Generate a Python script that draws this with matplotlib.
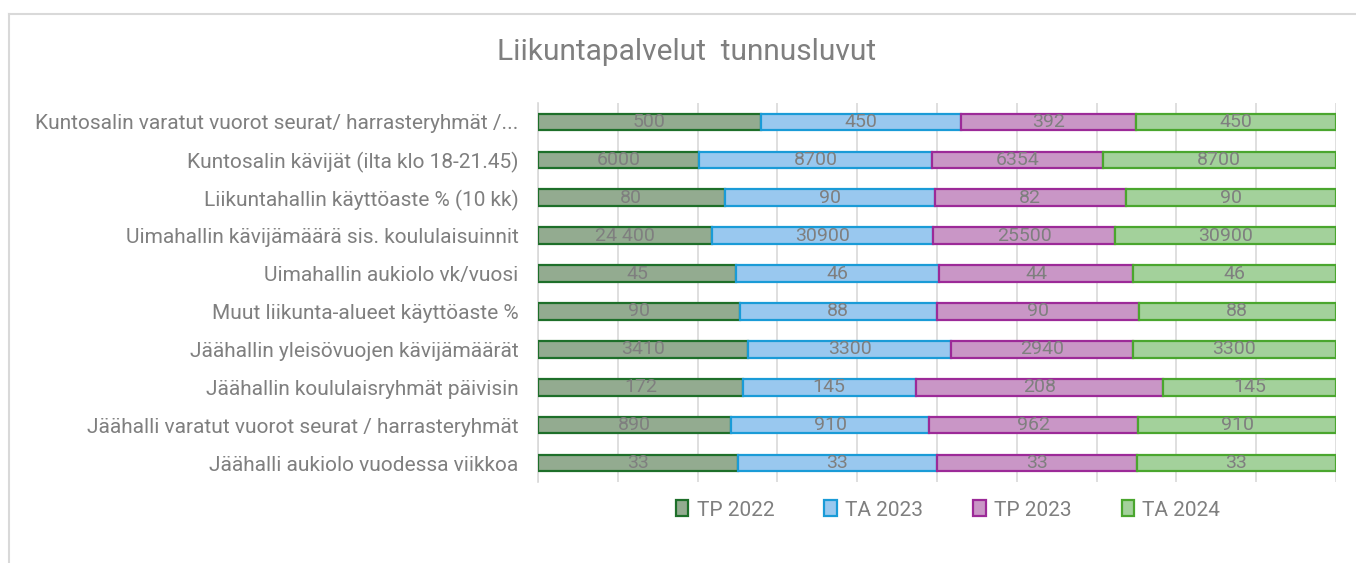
import numpy as np
import matplotlib.pyplot as plt

plt.rcParams['font.family'] = ['Roboto', 'DejaVu Sans']

# Categories (top to bottom as shown)
categories = [
    'Kuntosalin varatut vuorot seurat/ harrasteryhmät /...',
    'Kuntosalin kävijät (ilta klo 18-21.45)',
    'Liikuntahallin käyttöaste % (10 kk)',
    'Uimahallin kävijämäärä sis. koululaisuinnit',
    'Uimahallin aukiolo vk/vuosi',
    'Muut liikunta-alueet käyttöaste %',
    'Jäähallin yleisövuojen kävijämäärät',
    'Jäähallin koululaisryhmät päivisin',
    'Jäähalli varatut vuorot seurat / harrasteryhmät',
    'Jäähalli aukiolo vuodessa viikkoa',
]
series_names = ['TP 2022', 'TA 2023', 'TP 2023', 'TA 2024']
tp2022 = [500, 6000, 80, 24400, 45, 90, 3410, 172, 890, 33]
ta2023 = [450, 8700, 90, 30900, 46, 88, 3300, 145, 910, 33]
tp2023 = [392, 6354, 82, 25500, 44, 90, 2940, 208, 962, 33]
ta2024 = [450, 8700, 90, 30900, 46, 88, 3300, 145, 910, 33]
# (category index, series index) -> label text where the source formats differently
label_fmt = {(3, 0): '24 400'}

fills = ['#93ab90', '#99c8ef', '#c996c6', '#a3d19b']
edges = ['#1e6f2a', '#1a9bd7', '#9c2a98', '#4aa62e']
text_gray = '#7f7f7f'

data = np.array([tp2022, ta2023, tp2023, ta2024], dtype=float)
share = data / data.sum(axis=0)

fig = plt.figure(figsize=(13.56, 5.63), dpi=100)
ax = fig.add_axes([538 / 1356, 1 - 482 / 563, (1336 - 538) / 1356, (482 - 103) / 563])

y = np.arange(len(categories))
left = np.zeros(len(categories))
for i, name in enumerate(series_names):
    ax.barh(y, share[i], left=left, height=0.44, color=fills[i],
            edgecolor=edges[i], linewidth=1.6, label=name, zorder=3)
    for j in range(len(categories)):
        txt = label_fmt.get((j, i), str(int(data[i, j])))
        ax.text(left[j] + share[i, j] / 2, y[j], txt, ha='center', va='center',
                fontsize=14, color=text_gray, zorder=4)
    left += share[i]

ax.set_xlim(0, 1)
ax.set_ylim(len(categories) - 0.5, -0.5)
ax.set_xticks(np.linspace(0, 1, 11))
ax.set_xticklabels([])
ax.tick_params(axis='x', length=0)
ax.grid(axis='x', color='#d9d9d9', linewidth=1.2, zorder=0)
ax.set_yticks(y)
ax.set_yticklabels(categories, fontsize=15, color=text_gray)
ax.tick_params(axis='y', length=0, pad=14)
for s in ['top', 'right', 'bottom']:
    ax.spines[s].set_visible(False)
ax.spines['left'].set_color('#d9d9d9')
ax.spines['left'].set_linewidth(1.2)

fig.text(687 / 1356, 1 - 52 / 563, 'Liikuntapalvelut  tunnusluvut', ha='center',
         va='center', fontsize=21.5, color=text_gray)

handles, labels = ax.get_legend_handles_labels()
fig.legend(handles, labels, loc='center', ncol=4,
           bbox_to_anchor=(948 / 1356, 1 - 510 / 563),
           frameon=False, fontsize=15, handlelength=0.6, handleheight=0.8,
           columnspacing=2.4, handletextpad=0.4, labelcolor=text_gray)

# chart border (top and left edges visible)
fig.add_artist(plt.Line2D([9 / 1356, 9 / 1356], [0, 1 - 14 / 563], color='#d9d9d9',
                          linewidth=1.5, transform=fig.transFigure))
fig.add_artist(plt.Line2D([9 / 1356, 1], [1 - 14 / 563, 1 - 14 / 563], color='#d9d9d9',
                          linewidth=1.5, transform=fig.transFigure))

fig.savefig('out.png', dpi=100)
